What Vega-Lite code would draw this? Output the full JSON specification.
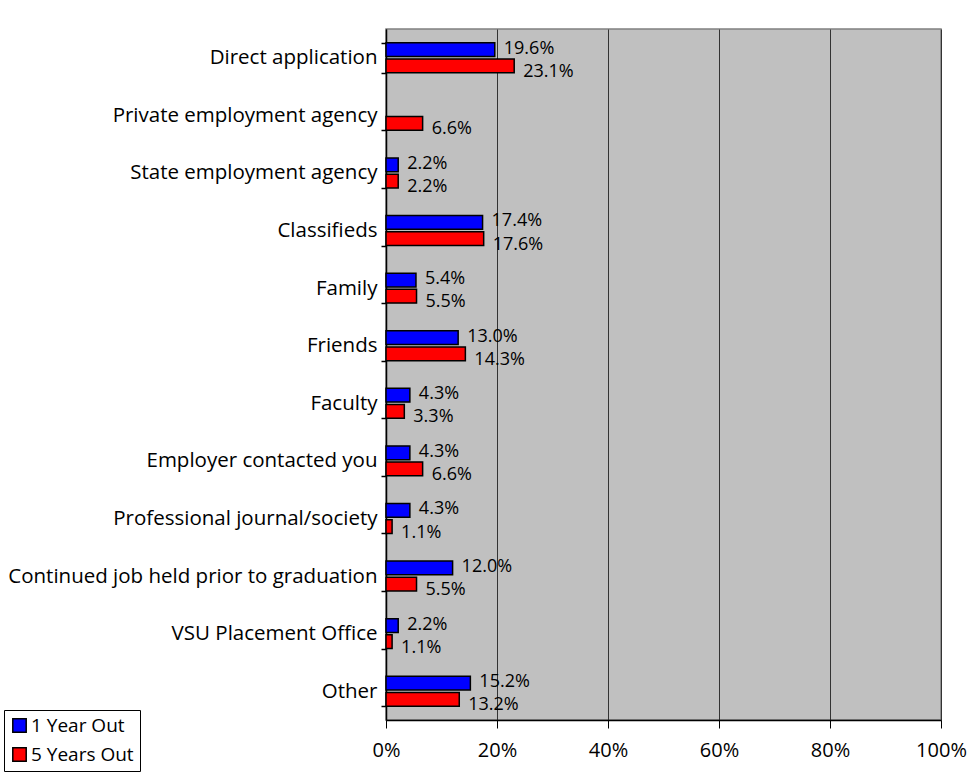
{
  "$schema": "https://vega.github.io/schema/vega-lite/v6.json",
  "autosize": "none",
  "width": 555,
  "height": 691,
  "padding": {"left": 386, "top": 29, "right": 28, "bottom": 52},
  "background": "white",
  "config": {
    "font": "Open Sans",
    "view": {"fill": "#C0C0C0", "stroke": "#808080", "strokeWidth": 1.5}
  },
  "data": {
    "values": [
      {"source": "Direct application", "series": "1 Year Out", "value": 0.196},
      {"source": "Direct application", "series": "5 Years Out", "value": 0.231},
      {"source": "Private employment agency", "series": "5 Years Out", "value": 0.066},
      {"source": "State employment agency", "series": "1 Year Out", "value": 0.022},
      {"source": "State employment agency", "series": "5 Years Out", "value": 0.022},
      {"source": "Classifieds", "series": "1 Year Out", "value": 0.174},
      {"source": "Classifieds", "series": "5 Years Out", "value": 0.176},
      {"source": "Family", "series": "1 Year Out", "value": 0.054},
      {"source": "Family", "series": "5 Years Out", "value": 0.055},
      {"source": "Friends", "series": "1 Year Out", "value": 0.130},
      {"source": "Friends", "series": "5 Years Out", "value": 0.143},
      {"source": "Faculty", "series": "1 Year Out", "value": 0.043},
      {"source": "Faculty", "series": "5 Years Out", "value": 0.033},
      {"source": "Employer contacted you", "series": "1 Year Out", "value": 0.043},
      {"source": "Employer contacted you", "series": "5 Years Out", "value": 0.066},
      {"source": "Professional journal/society", "series": "1 Year Out", "value": 0.043},
      {"source": "Professional journal/society", "series": "5 Years Out", "value": 0.011},
      {"source": "Continued job held prior to graduation", "series": "1 Year Out", "value": 0.120},
      {"source": "Continued job held prior to graduation", "series": "5 Years Out", "value": 0.055},
      {"source": "VSU Placement Office", "series": "1 Year Out", "value": 0.022},
      {"source": "VSU Placement Office", "series": "5 Years Out", "value": 0.011},
      {"source": "Other", "series": "1 Year Out", "value": 0.152},
      {"source": "Other", "series": "5 Years Out", "value": 0.132}
    ]
  },
  "encoding": {
    "y": {
      "field": "source", "type": "nominal", "sort": null, "title": null,
      "scale": {"paddingInner": 0.48, "paddingOuter": 0.24},
      "axis": {
        "tickBand": "extent", "domainColor": "black", "domainWidth": 1.5,
        "tickColor": "black", "tickSize": 5, "tickWidth": 1.5,
        "labelFontSize": 20.5, "labelColor": "black", "labelPadding": 4,
        "labelLimit": 400
      }
    },
    "yOffset": {"field": "series", "type": "nominal", "scale": {"paddingInner": 0.15}}
  },
  "layer": [
    {
      "mark": {"type": "bar", "stroke": "black", "strokeWidth": 1.5},
      "encoding": {
        "x": {
          "field": "value", "type": "quantitative", "title": null,
          "scale": {"domain": [0, 1]},
          "axis": {
            "values": [0, 0.2, 0.4, 0.6, 0.8, 1], "format": ".0%",
            "labelFlush": false,
            "grid": true, "gridColor": "#333333", "gridWidth": 1,
            "domainColor": "black", "domainWidth": 1.5,
            "tickColor": "black", "tickSize": 8, "tickWidth": 1,
            "labelFontSize": 20, "labelColor": "black", "labelPadding": 12
          }
        },
        "fill": {
          "field": "series", "type": "nominal", "title": null,
          "scale": {"domain": ["1 Year Out", "5 Years Out"], "range": ["#0000FF", "#FF0000"]},
          "legend": {
            "orient": "none", "legendX": -382, "legendY": 681,
            "direction": "vertical",
            "strokeColor": "black", "fillColor": "white", "padding": 6,
            "symbolType": "square", "symbolSize": 180,
            "symbolStrokeColor": "black", "symbolStrokeWidth": 1.5,
            "symbolOpacity": 1,
            "labelFontSize": 19, "labelColor": "black", "labelOffset": 2,
            "rowPadding": 8
          }
        }
      }
    },
    {
      "transform": [{"filter": "datum.series === '1 Year Out'"}],
      "mark": {"type": "text", "align": "left", "baseline": "middle", "dx": 9, "dy": -1, "fontSize": 18, "color": "black"},
      "encoding": {
        "x": {"field": "value", "type": "quantitative"},
        "text": {"field": "value", "type": "quantitative", "format": ".1%"}
      }
    },
    {
      "transform": [{"filter": "datum.series === '5 Years Out'"}],
      "mark": {"type": "text", "align": "left", "baseline": "middle", "dx": 9, "dy": 6, "fontSize": 18, "color": "black"},
      "encoding": {
        "x": {"field": "value", "type": "quantitative"},
        "text": {"field": "value", "type": "quantitative", "format": ".1%"}
      }
    }
  ]
}
